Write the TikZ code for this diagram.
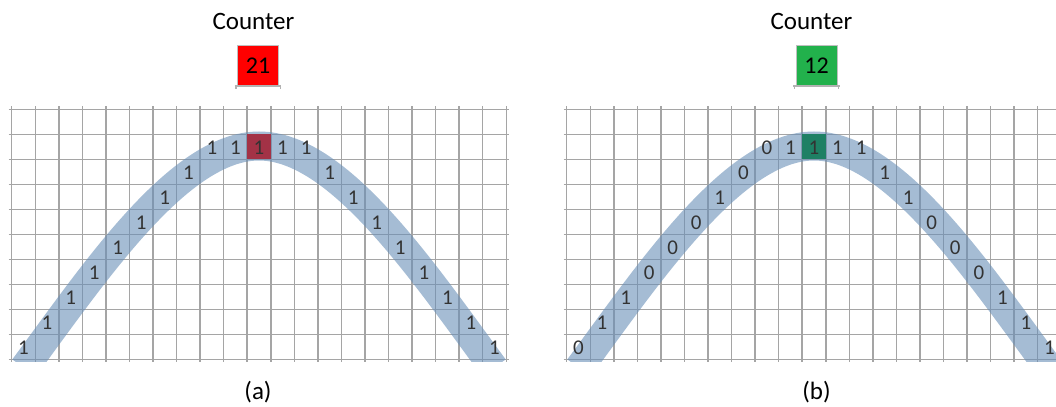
\documentclass[tikz,border=0pt]{standalone}
\usepackage{fontspec}
\setmainfont{Carlito}
\definecolor{gridgray}{RGB}{165,165,165}
\definecolor{bandblue}{RGB}{105,143,183}
\definecolor{cellred}{RGB}{163,50,70}
\definecolor{cellgreen}{RGB}{30,128,100}
\definecolor{boxred}{RGB}{255,0,0}
\definecolor{boxgreen}{RGB}{34,177,76}
\tikzset{
  gridline/.style={draw=gridgray, line width=0.75pt},
  band/.style={draw=bandblue, draw opacity=0.6, line width=14.5pt},
  digit/.style={inner sep=0pt, text=black!80, font=\fontsize{10.5}{12}\selectfont},
  counterbox/.style={draw=gray!50, line width=0.4pt, minimum width=20.5pt, minimum height=20pt, inner sep=0pt, font=\fontsize{12}{14}\selectfont},
  boxtick/.style={draw=gray!60, line width=0.6pt},
  titletext/.style={inner sep=0pt, anchor=base, font=\fontsize{12.5}{15}\selectfont},
  captiontext/.style={inner sep=0pt, anchor=base, font=\fontsize{12.5}{15}\selectfont}
}
% #1 name, #2 x offset, #3 box centre x, #4 title centre x, #5 box colour,
% #6 cell colour, #7 count, #8 caption, #9 values
\newcommand\mypanel[9]{%
  \begin{scope}[shift={(#2,0)}]
    \foreach \i in {0,...,21}
      \draw[gridline] ({11.7+\i*23.55},106.3) -- ({11.7+\i*23.55},362.3);
    \foreach \j in {0,...,10}
      \draw[gridline] (8.7,{109.3+\j*25}) -- (509.3,{109.3+\j*25});
    \begin{scope}
      \clip (0,0) rectangle (525,361);
      \draw[band] (24,368) .. controls (95,272) and (179,146) .. (259,146)
                           .. controls (339,146) and (423,272) .. (494,368);
    \end{scope}
    \fill[#6] ({11.7+10*23.55},134.3) rectangle ({11.7+11*23.55},159.3);
    \foreach \v [count=\k from 0] in {#9} {
      \pgfmathtruncatemacro\r{max(1,abs(\k-10)-1)}
      \node[digit] (#1c\k) at ({11.7+(\k+0.5)*23.55},{109.3+(\r+0.5)*25+0.8}) {\v};
    }
    \node[counterbox, fill=#5] (#1box) at (#3,65.5) {#7};
    \draw[boxtick] ([xshift=-1.2pt]#1box.south west) -- ([xshift=1.2pt]#1box.south east);
    \draw[boxtick] ([xshift=-0.6pt]#1box.south west) -- ++(0,3);
    \draw[boxtick] ([xshift=0.6pt]#1box.south east) -- ++(0,3);
    \node[titletext] (#1title) at (#4,29.3) {Counter};
    \node[captiontext] (#1cap) at (#3,399) {#8};
  \end{scope}
}
\begin{document}
\begin{tikzpicture}[x=0.5pt,y=-0.5pt]
  \useasboundingbox (0,0) rectangle (1056,407);
  \clip (0,0) rectangle (1056,407);
  \mypanel{a}{0}{258}{253.5}{boxred}{cellred}{21}{(a)}{1,1,1,1,1,1,1,1,1,1,1,1,1,1,1,1,1,1,1,1,1}
  \mypanel{b}{555}{261.5}{256.5}{boxgreen}{cellgreen}{12}{(b)}{0,1,1,0,0,0,1,0,0,1,1,1,1,1,1,0,0,0,1,1,1}
\end{tikzpicture}
\end{document}
